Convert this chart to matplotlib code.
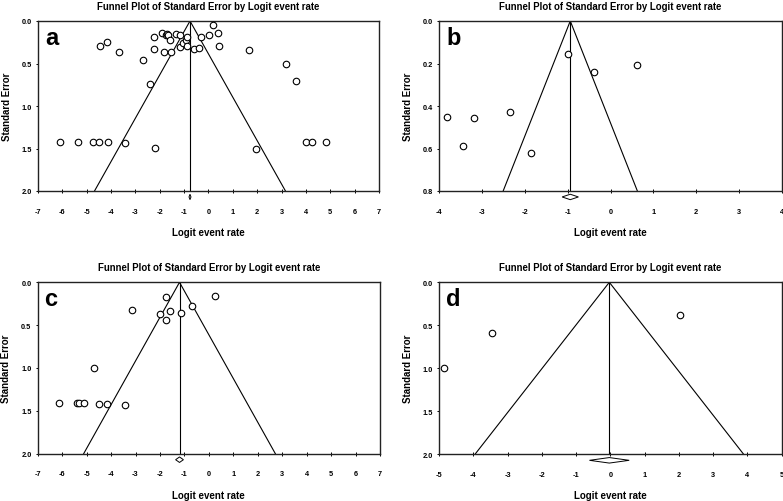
import matplotlib
matplotlib.use("Agg")
import matplotlib.pyplot as plt
from matplotlib.patches import Polygon
import matplotlib.transforms as mtransforms
import numpy as np

plt.rcParams['font.family'] = ['Liberation Sans', 'DejaVu Sans']
plt.rcParams['font.weight'] = 'bold'

title_text = "Funnel Plot of Standard Error by Logit event rate"
xlabel_text = "Logit event rate"
ylabel_text = "Standard Error"

# Panel a
a_logit = [-4.45, -4.17, -3.67, -2.70, -2.42, -2.22, -2.24, -1.92, -1.84, -1.74, -1.70, -1.68,
           -1.58, -1.53, -1.32, -1.18, -1.17, -1.05, -0.91, -0.87, -0.87, -0.61, -0.39, -0.32,
           0.01, 0.20, 0.40, 0.43, 1.68, 3.17, 3.59,
           -6.08, -5.37, -4.73, -4.48, -4.14, -3.41, -2.18, 1.95, 4.00, 4.26, 4.81]
a_se = [0.29, 0.25, 0.36, 0.46, 0.74, 0.19, 0.33, 0.14, 0.36, 0.16, 0.15, 0.17,
        0.22, 0.36, 0.15, 0.17, 0.30, 0.26, 0.22, 0.19, 0.29, 0.33, 0.32, 0.19,
        0.16, 0.05, 0.14, 0.29, 0.34, 0.51, 0.71,
        1.42, 1.42, 1.42, 1.42, 1.42, 1.435, 1.49, 1.51, 1.42, 1.42, 1.42]
a_mean, a_ci = -0.76, (-0.80, -0.72)
a_xticks = list(range(-7, 8))
a_yticks = [0.0, 0.5, 1.0, 1.5, 2.0]

# Panel b
b_logit = [-3.83, -3.18, -2.35, -3.45, -1.86, -0.99, -0.39, 0.62]
b_se = [0.45, 0.455, 0.427, 0.587, 0.621, 0.154, 0.238, 0.209]
b_mean, b_ci = -0.94, (-1.13, -0.75)
b_xticks = list(range(-4, 5))
b_yticks = [0.0, 0.2, 0.4, 0.6, 0.8]

# Panel c
c_logit = [-1.76, -3.14, -1.98, -1.57, -1.74, -1.12, -0.69, 0.25, -4.71,
           -6.11, -5.40, -5.32, -5.10, -4.49, -4.15, -3.44]
c_se = [0.167, 0.32, 0.37, 0.34, 0.44, 0.36, 0.28, 0.156, 1.0,
        1.41, 1.41, 1.41, 1.41, 1.42, 1.42, 1.43]
c_mean, c_ci = -1.20, (-1.36, -1.04)
c_xticks = list(range(-7, 8))
c_yticks = [0.0, 0.5, 1.0, 1.5, 2.0]

# Panel d
d_logit = [2.04, -3.45, -4.84]
d_se = [0.38, 0.59, 1.0]
d_mean, d_ci = -0.03, (-0.61, 0.55)
d_xticks = list(range(-5, 6))
d_yticks = [0.0, 0.5, 1.0, 1.5, 2.0]

panels = [
    ("a", a_logit, a_se, a_mean, a_ci, a_xticks, a_yticks, [38, 379, 22, 192]),
    ("b", b_logit, b_se, b_mean, b_ci, b_xticks, b_yticks, [439.3, 781.7, 22, 192]),
    ("c", c_logit, c_se, c_mean, c_ci, c_xticks, c_yticks, [37.7, 380, 283.3, 454.7]),
    ("d", d_logit, d_se, d_mean, d_ci, d_xticks, d_yticks, [439, 781.7, 283.3, 455.3]),
]

W, H = 783, 502
fig = plt.figure(figsize=(W / 100, H / 100), dpi=100)

for letter, xs, ses, mean, ci, xt, yt, box in panels:
    l, r, t, b = box
    ax = fig.add_axes([l / W, 1 - b / H, (r - l) / W, (b - t) / H])
    semax = yt[-1]
    ax.set_xlim(xt[0], xt[-1])
    ax.set_ylim(semax, 0)
    ax.plot([mean, mean], [0, semax], color='black', lw=0.8)
    ax.plot([mean - 1.96 * semax, mean, mean + 1.96 * semax], [semax, 0, semax],
            color='black', lw=0.8)
    ax.scatter(xs, ses, s=22, facecolors='white', edgecolors='black', linewidths=0.8, zorder=3)
    trans = mtransforms.blended_transform_factory(ax.transData, ax.transAxes)
    yc, hh = -0.035, 0.016
    diamond = Polygon([[ci[0], yc], [mean, yc + hh], [ci[1], yc], [mean, yc - hh]],
                      closed=True, facecolor='white', edgecolor='black', lw=0.7,
                      transform=trans, clip_on=False)
    ax.add_patch(diamond)
    ax.set_xticks(xt)
    ax.set_xticklabels([f"{v:d}" for v in xt])
    ax.set_yticks(yt)
    ax.set_yticklabels([f"{v:.1f}" for v in yt])
    ax.tick_params(axis='x', direction='inout', length=3, width=0.7, pad=10.5, labelsize=5.3)
    ax.tick_params(axis='y', direction='out', length=1.5, width=0.7, pad=3, labelsize=5.3)
    for s in ax.spines.values():
        s.set_linewidth(1.0)
        s.set_color('#222222')
    ax.set_title(title_text, fontsize=6.9, fontweight='bold', pad=9)
    ax.set_xlabel(xlabel_text, fontsize=7, fontweight='bold', labelpad=9)
    ax.set_ylabel(ylabel_text, fontsize=7, fontweight='bold', labelpad=7)
    ax.text(0.02, 0.97, letter, transform=ax.transAxes, fontsize=17, fontweight='bold',
            va='top', ha='left')

fig.savefig("out.png", dpi=100)
